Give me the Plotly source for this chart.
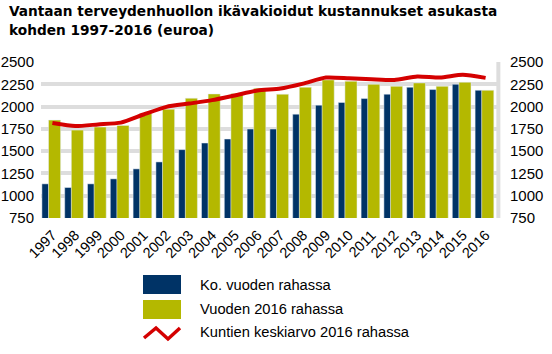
import plotly.graph_objects as go

years = [str(y) for y in range(1997, 2017)]
current_money = [1133, 1092, 1133, 1189, 1301, 1379, 1517, 1591, 1636, 1748,
                 1748, 1915, 2016, 2046, 2090, 2139, 2217, 2191, 2250, 2183]
money_2016 = [1848, 1736, 1770, 1789, 1923, 1971, 2094, 2142, 2146, 2206,
              2139, 2217, 2299, 2284, 2250, 2228, 2265, 2228, 2273, 2183]
municipal_avg = [1815, 1781, 1800, 1820, 1911, 1997, 2034, 2072, 2125, 2180,
                 2202, 2258, 2325, 2317, 2306, 2298, 2338, 2325, 2356, 2322]
y_ticks = [750, 1000, 1250, 1500, 1750, 2000, 2250, 2500]

series_names = ["Ko. vuoden rahassa", "Vuoden 2016 rahassa", "Kuntien keskiarvo 2016 rahassa"]
title_lines = ["Vantaan terveydenhuollon ikävakioidut kustannukset asukasta",
               "kohden 1997-2016 (euroa)"]

NAVY = "#003366"
OLIVE = "#b4b800"
RED = "#d40000"
GRID = "#dddddd"

x_idx = list(range(len(years)))

fig = go.Figure()
fig.add_trace(go.Bar(x=x_idx, y=current_money, name=series_names[0], marker_color=NAVY,
                     width=0.3, offset=-0.46, base=0, showlegend=False))
fig.add_trace(go.Bar(x=x_idx, y=money_2016, name=series_names[1], marker_color=OLIVE,
                     width=0.53, offset=-0.17, base=0, showlegend=False))
fig.add_trace(go.Scatter(x=x_idx, y=municipal_avg, name=series_names[2], mode="lines",
                         line=dict(color=RED, width=4, shape="spline", smoothing=0.6),
                         yaxis="y2", showlegend=False))

tick_font = dict(family="Liberation Sans, Arial, sans-serif", size=15, color="#000000")

fig.update_layout(
    width=552, height=354,
    margin=dict(l=41, r=55, t=62, b=136, autoexpand=False),
    paper_bgcolor="white", plot_bgcolor="white",
    barmode="overlay",
    xaxis=dict(range=[-0.5, 19.5], tickmode="array", tickvals=x_idx, ticktext=years,
               tickangle=-45, tickfont=dict(family="Liberation Sans, Arial, sans-serif", size=14.5, color="#000000"),
               showgrid=False, zeroline=False, showline=False, ticks="outside", ticklen=2,
               tickcolor="rgba(0,0,0,0)", automargin=False),
    yaxis=dict(range=[750, 2500], tickmode="array", tickvals=y_ticks, tickfont=tick_font,
               showgrid=True, gridcolor=GRID, gridwidth=4, zeroline=False, showline=False,
               ticks="outside", ticklen=3, tickcolor="rgba(0,0,0,0)", automargin=False),
    yaxis2=dict(range=[750, 2500], tickmode="array", tickvals=y_ticks, tickfont=tick_font,
                overlaying="y", side="right", showgrid=False, zeroline=False, showline=False,
                ticks="outside", ticklen=9, tickcolor="rgba(0,0,0,0)", automargin=False),
    font=dict(family="Liberation Sans, Arial, sans-serif"),
)

# right wall of the chart
fig.add_shape(type="line", xref="paper", yref="paper", x0=1.003, x1=1.003, y0=0, y1=1,
              line=dict(color=GRID, width=4), layer="below")

def px_x(v):
    return (v - 41) / (552 - 41 - 55)

def px_y(v):
    return (354 - 136 - v) / (354 - 62 - 136)

# title (two lines)
for line, yc in zip(title_lines, [11, 30]):
    fig.add_annotation(text="<b>" + line + "</b>", xref="paper", yref="paper", x=px_x(7), y=px_y(yc),
                       xanchor="left", yanchor="middle", align="left", showarrow=False,
                       font=dict(family="DejaVu Sans, Verdana, sans-serif", size=13.7, color="#000000"))

# custom legend (large swatches like the original)
fig.add_shape(type="rect", xref="paper", yref="paper", x0=px_x(143), x1=px_x(181),
              y0=px_y(294), y1=px_y(275), fillcolor=NAVY, line=dict(width=0))
fig.add_shape(type="rect", xref="paper", yref="paper", x0=px_x(143), x1=px_x(181),
              y0=px_y(319), y1=px_y(300), fillcolor=OLIVE, line=dict(width=0))
zig = [(144, 338), (156, 328), (168, 339), (180, 328)]
path = "M " + " L ".join(f"{px_x(a)},{px_y(b)}" for a, b in zig)
fig.add_shape(type="path", xref="paper", yref="paper", path=path,
              line=dict(color=RED, width=3.5))
for name, yc in zip(series_names, [285, 309, 332]):
    fig.add_annotation(text=name, xref="paper", yref="paper", x=px_x(198), y=px_y(yc),
                       xanchor="left", yanchor="middle", showarrow=False,
                       font=dict(family="Liberation Sans, Arial, sans-serif", size=14.7, color="#000000"))

fig.write_html("out.html")
